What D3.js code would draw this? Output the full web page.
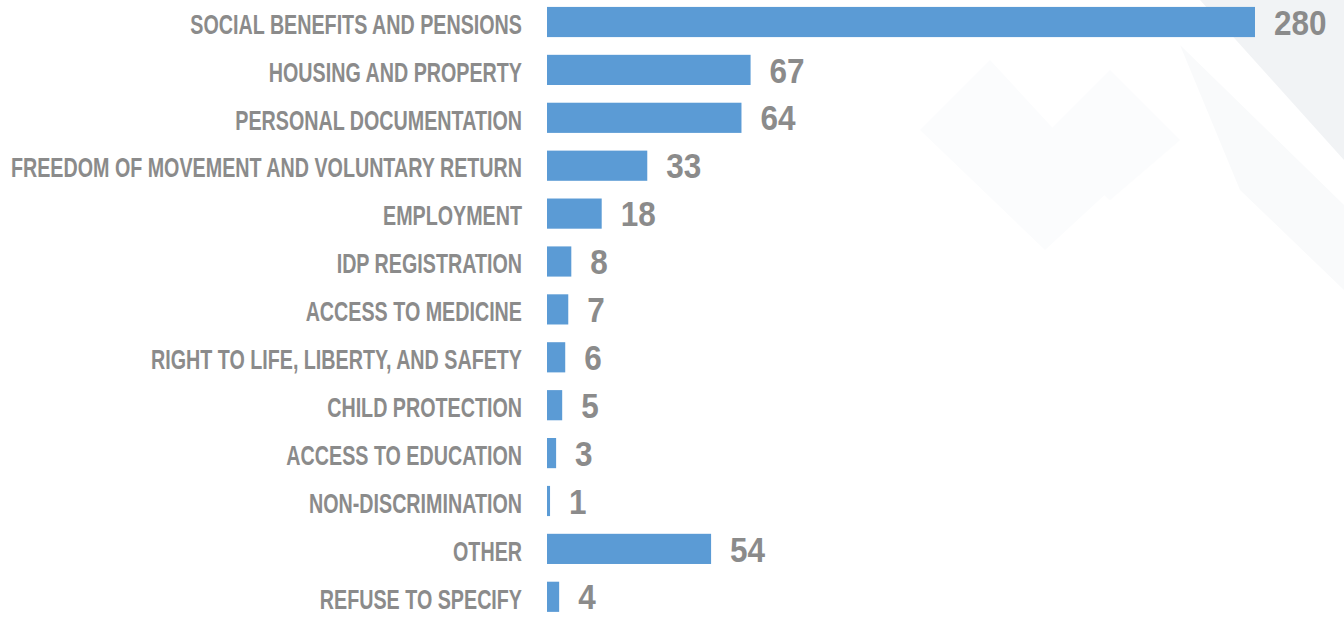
<!DOCTYPE html>
<html>
<head>
<meta charset="utf-8">
<script src="https://cdn.jsdelivr.net/npm/d3@7"></script>
<style>
  html, body { margin: 0; padding: 0; background: #ffffff; }
  svg { display: block; }
  .cat, .val { font-family: "Liberation Sans", Arial, sans-serif; font-weight: bold; fill: #8b8b8b; }
</style>
</head>
<body>
<svg id="chart" width="1344" height="617"></svg>
<script>
// Reported issues by category (number of responses)
const categories = [
  "SOCIAL BENEFITS AND PENSIONS",
  "HOUSING AND PROPERTY",
  "PERSONAL DOCUMENTATION",
  "FREEDOM OF MOVEMENT AND VOLUNTARY RETURN",
  "EMPLOYMENT",
  "IDP REGISTRATION",
  "ACCESS TO MEDICINE",
  "RIGHT TO LIFE, LIBERTY, AND SAFETY",
  "CHILD PROTECTION",
  "ACCESS TO EDUCATION",
  "NON-DISCRIMINATION",
  "OTHER",
  "REFUSE TO SPECIFY"
];
const values = [280, 67, 64, 33, 18, 8, 7, 6, 5, 3, 1, 54, 4];

const svg = d3.select("#chart");

// faint background decoration in the upper right
const deco = svg.append("g");
deco.append("polygon").attr("points", "1200,0 1344,0 1344,160").attr("fill", "#f1f3f5");
deco.append("polygon").attr("points", "1180,45 1344,205 1344,290 1240,190").attr("fill", "#f9fafb");
deco.append("polygon").attr("points", "920,130 990,60 1110,190 1045,250").attr("fill", "#fbfcfd");
deco.append("polygon").attr("points", "1040,140 1110,70 1180,140 1110,200").attr("fill", "#fbfcfd");

// condensed lettering: text is drawn normally and squeezed horizontally
const catSize = 27, catScale = 0.73;
const valSize = 35, valScale = 0.9;

// long first bar is capped at the right edge of the plot
const x = d3.scaleLinear().domain([0, 233]).range([547, 1255]).clamp(true);
const y = d3.scaleBand().domain(categories).range([-10.8, 629.6]).padding(0.37);

const data = categories.map((c, i) => ({ cat: c, val: values[i] }));

svg.append("g").selectAll("rect").data(data).join("rect")
  .attr("x", x(0))
  .attr("y", d => y(d.cat))
  .attr("width", d => x(d.val) - x(0))
  .attr("height", y.bandwidth())
  .attr("fill", "#5b9bd5");

svg.append("g").selectAll("text").data(data).join("text")
  .attr("class", "cat")
  .attr("transform", d => `translate(522,${y(d.cat) + y.bandwidth() / 2 + 2}) scale(${catScale},1)`)
  .attr("dy", "0.36em")
  .attr("text-anchor", "end")
  .attr("font-size", catSize)
  .text(d => d.cat);

svg.append("g").selectAll("text").data(data).join("text")
  .attr("class", "val")
  .attr("transform", d => `translate(${x(d.val) + 19},${y(d.cat) + y.bandwidth() / 2}) scale(${valScale},1)`)
  .attr("dy", "0.36em")
  .attr("font-size", valSize)
  .text(d => d.val);
</script>
</body>
</html>
